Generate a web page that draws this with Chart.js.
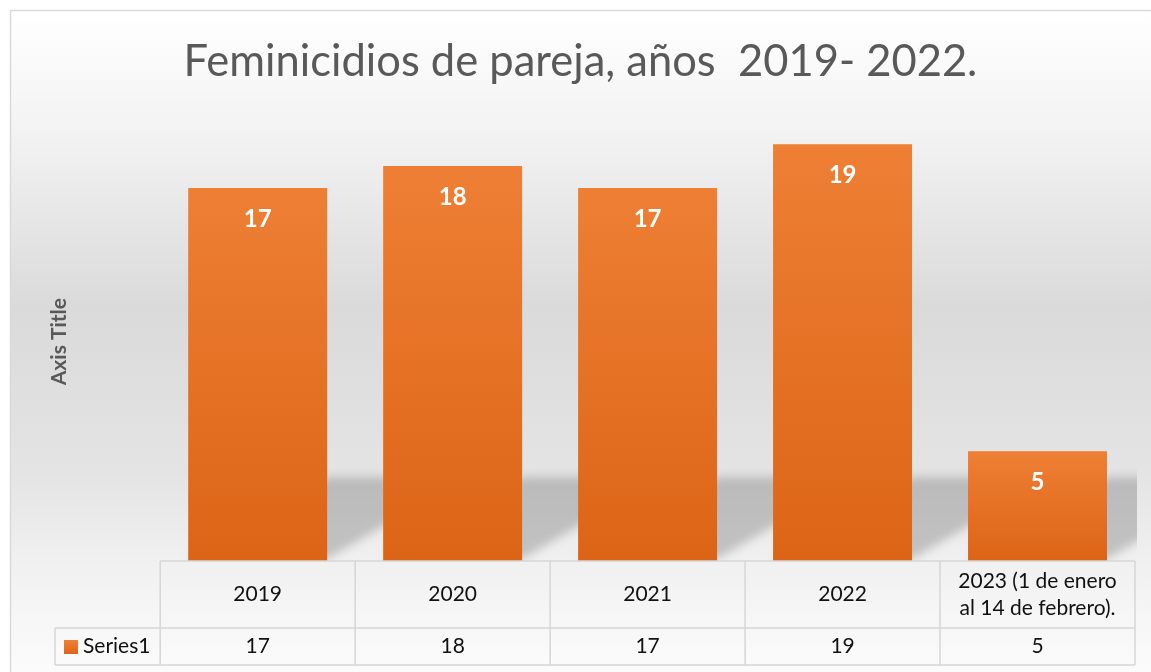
<!DOCTYPE html>
<html>
<head>
<meta charset="utf-8">
<script src="https://cdn.jsdelivr.net/npm/chart.js@4/dist/chart.umd.min.js"></script>
<style>
  html, body { margin: 0; padding: 0; background: #ffffff; }
  #wrap { position: relative; width: 1151px; height: 672px; }
</style>
</head>
<body>
<div id="wrap"><canvas id="barChart" width="1151" height="672"></canvas></div>
<script>
// datos del grafico
const categorias = ['2019', '2020', '2021', '2022', ['2023 (1 de enero', 'al 14 de febrero).']];
const valores = [17, 18, 17, 19, 5];
const nombreSerie = 'Series1';
const tituloGrafico = 'Feminicidios de pareja, años  2019- 2022.';
const tituloEje = 'Axis Title';

const FONT = 'Lato, "Open Sans", sans-serif';

// fondo degradado y borde del area del grafico
const fondoPlugin = {
    id: 'fondo',
    beforeDraw(chart) {
        const ctx = chart.ctx;
        const g = ctx.createLinearGradient(0, 10, 0, 672);
        g.addColorStop(0, '#ffffff');
        g.addColorStop(0.18, '#f3f3f3');
        g.addColorStop(0.45, '#dadada');
        g.addColorStop(0.7, '#e4e4e4');
        g.addColorStop(0.84, '#f1f1f1');
        g.addColorStop(1, '#fbfbfb');
        ctx.save();
        ctx.fillStyle = g;
        ctx.fillRect(10, 10, chart.width - 10, chart.height - 10);
        ctx.strokeStyle = '#d9d9d9';
        ctx.lineWidth = 1.5;
        ctx.beginPath();
        ctx.moveTo(10.5, chart.height);
        ctx.lineTo(10.5, 10.5);
        ctx.lineTo(chart.width, 10.5);
        ctx.stroke();
        ctx.restore();
    }
};

// sombra de las barras
const sombraPlugin = {
    id: 'sombra',
    beforeDatasetsDraw(chart) {
        const ctx = chart.ctx;
        const area = chart.chartArea;
        const meta = chart.getDatasetMeta(0);
        ctx.save();
        ctx.beginPath();
        ctx.rect(area.left, area.top, area.right - area.left + 2, area.bottom - area.top);
        ctx.clip();
        ctx.filter = 'blur(5px)';
        ctx.fillStyle = 'rgba(90, 90, 90, 0.3)';
        meta.data.forEach(bar => {
            const L = bar.x - bar.width / 2;
            const R = bar.x + bar.width / 2;
            const B = bar.base;
            ctx.beginPath();
            ctx.moveTo(L, B - 2);
            ctx.lineTo(R, B - 2);
            ctx.lineTo(R + 140, B - 84);
            ctx.lineTo(L + 140, B - 84);
            ctx.closePath();
            ctx.fill();
        });
        ctx.restore();
    }
};

// etiquetas de datos dentro de las barras
const etiquetasPlugin = {
    id: 'etiquetas',
    afterDatasetsDraw(chart) {
        const ctx = chart.ctx;
        const meta = chart.getDatasetMeta(0);
        ctx.save();
        ctx.fillStyle = '#ffffff';
        ctx.font = 'bold 24px ' + FONT;
        ctx.textAlign = 'center';
        ctx.textBaseline = 'middle';
        meta.data.forEach((bar, i) => {
            ctx.fillText(String(valores[i]), bar.x, bar.y + 31);
        });
        ctx.restore();
    }
};

// tabla de datos bajo el eje
const tablaPlugin = {
    id: 'tabla',
    afterDraw(chart) {
        const ctx = chart.ctx;
        const x = chart.scales.x;
        const area = chart.chartArea;
        const anchoCat = (area.right - area.left) / categorias.length;
        const top = area.bottom;
        const medio = top + 67;
        const fondo = top + 104;
        const izqSerie = 55;

        ctx.save();
        ctx.strokeStyle = '#d6d6d6';
        ctx.lineWidth = 1.5;
        ctx.beginPath();
        // lineas horizontales
        ctx.moveTo(area.left, top);
        ctx.lineTo(area.right, top);
        ctx.moveTo(izqSerie, medio);
        ctx.lineTo(area.right, medio);
        ctx.moveTo(izqSerie, fondo);
        ctx.lineTo(area.right, fondo);
        // lineas verticales
        ctx.moveTo(izqSerie, medio);
        ctx.lineTo(izqSerie, fondo);
        for (let i = 0; i <= categorias.length; i++) {
            const cx = area.left + i * anchoCat;
            ctx.moveTo(cx, top);
            ctx.lineTo(cx, fondo);
        }
        ctx.stroke();

        ctx.fillStyle = '#111111';
        ctx.font = '21px ' + FONT;
        ctx.textAlign = 'center';
        ctx.textBaseline = 'middle';
        categorias.forEach((cat, i) => {
            const cx = x.getPixelForValue(i);
            const cy = (top + medio) / 2;
            if (Array.isArray(cat)) {
                const paso = 27;
                cat.forEach((linea, j) => {
                    ctx.fillText(linea, cx, cy + (j - (cat.length - 1) / 2) * paso);
                });
            } else {
                ctx.fillText(cat, cx, cy);
            }
            ctx.fillText(String(valores[i]), cx, (medio + fondo) / 2);
        });

        // leyenda de la serie
        const g = ctx.createLinearGradient(0, 640, 0, 654);
        g.addColorStop(0, '#ee8136');
        g.addColorStop(1, '#dd6418');
        ctx.fillStyle = g;
        ctx.fillRect(64, 640, 14, 14);
        ctx.fillStyle = '#111111';
        ctx.textAlign = 'left';
        ctx.fillText(nombreSerie, 83, (medio + fondo) / 2);
        ctx.restore();
    }
};

const ctx = document.getElementById('barChart').getContext('2d');

new Chart(ctx, {
    type: 'bar',
    data: {
        labels: categorias,
        datasets: [{
            label: nombreSerie,
            data: valores,
            backgroundColor: function(context) {
                const chart = context.chart;
                const y = chart.scales.y;
                if (!y || context.raw === undefined) return '#e77429';
                const top = y.getPixelForValue(context.raw);
                const base = y.getPixelForValue(0);
                if (!isFinite(top) || !isFinite(base) || top === base) return '#e77429';
                const g = chart.ctx.createLinearGradient(0, top, 0, base);
                g.addColorStop(0, '#ee7f34');
                g.addColorStop(1, '#dc6416');
                return g;
            },
            borderWidth: 0,
            barPercentage: 0.8,
            categoryPercentage: 0.891
        }]
    },
    options: {
        responsive: false,
        animation: false,
        layout: {
            padding: { left: 10, right: 0, top: 0, bottom: 111 }
        },
        plugins: {
            legend: { display: false },
            tooltip: { enabled: false },
            title: {
                display: true,
                text: tituloGrafico,
                color: '#595959',
                font: { family: FONT, size: 43.5, weight: 'normal', lineHeight: 1.2 },
                padding: { top: 36, bottom: 34 }
            }
        },
        scales: {
            x: {
                display: false
            },
            y: {
                min: 0,
                max: 20,
                display: true,
                grid: { display: false, drawTicks: false },
                border: { display: false },
                ticks: { display: false },
                title: {
                    display: true,
                    text: tituloEje,
                    color: '#595959',
                    font: { family: FONT, size: 21, weight: 'bold', lineHeight: 1.2 },
                    padding: { top: 37, bottom: 88 }
                }
            },
            // margen derecho vacio
            margen: {
                type: 'linear',
                position: 'right',
                display: true,
                grid: { display: false, drawTicks: false },
                border: { display: false },
                ticks: { display: false },
                afterFit(scale) { scale.width = 16; }
            }
        }
    },
    plugins: [fondoPlugin, sombraPlugin, etiquetasPlugin, tablaPlugin]
});
</script>
</body>
</html>
